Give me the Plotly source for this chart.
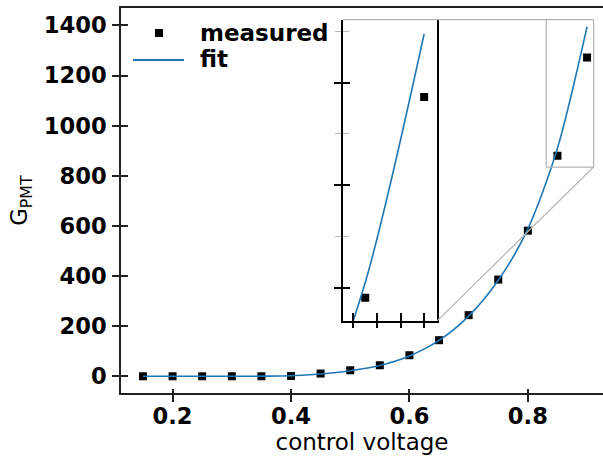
import plotly.graph_objects as go

# ---- data ----
voltage = [0.15, 0.20, 0.25, 0.30, 0.35, 0.40, 0.45, 0.50,
           0.55, 0.60, 0.65, 0.70, 0.75, 0.80, 0.85, 0.90]
gain_measured = [0, 0, 0, 0, 0, 1, 11, 24, 44, 84, 144, 244, 386, 581, 880, 1272]
gain_fit = [0, 0, 0, 0, 0.5, 2, 9, 22, 43, 81, 143, 240, 383, 588, 910, 1395]

x_ticks = [0.2, 0.4, 0.6, 0.8]
x_tick_labels = ["0.2", "0.4", "0.6", "0.8"]
y_ticks = [0, 200, 400, 600, 800, 1000, 1200, 1400]
y_tick_labels = ["0", "200", "400", "600", "800", "1000", "1200", "1400"]

inset_x_ticks = [0.84, 0.86, 0.88, 0.90]
inset_y_major = [900, 1100, 1300]
inset_y_minor = [1000, 1200, 1400]

legend_labels = ["measured", "fit"]

main_x_range = [0.1129, 0.9269]
main_y_range = [-66.7, 1469.6]
inset_x_range = [0.831, 0.911]
inset_y_range = [835, 1423]
inset_x_domain = [0.4603, 0.6558]
inset_y_domain = [0.1873, 0.9696]

W, H = 603, 460
ML, MR, MT, MB = 121, 0, 8, 67
PW, PH = W - ML - MR, H - MT - MB

FONT = "DejaVu Sans"
AX = "#222222"
BLUE = "#1f77b4"
GRAY = "#b4b4b4"


def px(xpix):
    return (xpix - ML) / PW


def py(ypix):
    return (H - MB - ypix) / PH


fig = go.Figure()

# main traces
fig.add_trace(go.Scatter(x=voltage, y=gain_measured, mode="markers", name=legend_labels[0],
                         marker=dict(symbol="square", size=8, color="black"),
                         xaxis="x", yaxis="y", showlegend=False))
fig.add_trace(go.Scatter(x=voltage, y=gain_fit, mode="lines", name=legend_labels[1],
                         line=dict(color=BLUE, width=1.6, shape="spline", smoothing=0.8),
                         xaxis="x", yaxis="y", showlegend=False))
# inset traces
fig.add_trace(go.Scatter(x=voltage, y=gain_measured, mode="markers", showlegend=False,
                         marker=dict(symbol="square", size=8, color="black"),
                         xaxis="x2", yaxis="y2"))
fig.add_trace(go.Scatter(x=voltage, y=gain_fit, mode="lines", showlegend=False,
                         line=dict(color=BLUE, width=1.6, shape="spline", smoothing=0.8),
                         xaxis="x2", yaxis="y2"))
# empty traces hosting the overlay tick axes (inward half of in-out ticks)
fig.add_trace(go.Scatter(x=[None], y=[None], showlegend=False, xaxis="x3", yaxis="y3",
                         hoverinfo="skip"))
fig.add_trace(go.Scatter(x=[None], y=[None], showlegend=False, xaxis="x4", yaxis="y4",
                         hoverinfo="skip"))

tickfont = dict(family=FONT, size=22.6, color="black", weight="bold")
nolab = dict(showticklabels=False, showline=False, showgrid=False, zeroline=False,
             automargin=False)

fig.update_layout(
    width=W, height=H,
    margin=dict(l=ML, r=MR, t=MT, b=MB, pad=0, autoexpand=False),
    paper_bgcolor="white", plot_bgcolor="white",
    font=dict(family=FONT, color="black"),
    showlegend=False,
    xaxis=dict(range=main_x_range, domain=[0, 1], anchor="y", automargin=False,
               tickmode="array", tickvals=x_ticks, ticktext=x_tick_labels,
               ticks="outside", ticklen=7, tickwidth=1.5, tickcolor=AX,
               ticklabelstandoff=-5,
               showline=True, linecolor=AX, linewidth=1.5, mirror=True,
               showgrid=False, zeroline=False, tickfont=tickfont,
               title=dict(text="control voltage", standoff=4,
                          font=dict(family=FONT, size=23, color="black"))),
    yaxis=dict(range=main_y_range, domain=[0, 1], anchor="x", automargin=False,
               tickmode="array", tickvals=y_ticks, ticktext=y_tick_labels,
               ticks="outside", ticklen=7, tickwidth=1.5, tickcolor=AX,
               ticklabelstandoff=1,
               showline=True, linecolor=AX, linewidth=1.5,
               showgrid=False, zeroline=False, tickfont=tickfont,
               title=dict(text="G<sub>PMT</sub>", standoff=10,
                          font=dict(family=FONT, size=22.6, color="black"))),
    xaxis3=dict(range=main_x_range, overlaying="x", anchor="y3", side="bottom",
                tickmode="array", tickvals=x_ticks, ticks="inside", ticklen=4,
                tickwidth=1.5, tickcolor=AX, **nolab),
    yaxis3=dict(range=main_y_range, overlaying="y", anchor="x3", side="left",
                tickmode="array", tickvals=y_ticks, ticks="inside", ticklen=7,
                tickwidth=1.5, tickcolor=AX, **nolab),
    xaxis2=dict(range=inset_x_range, domain=inset_x_domain, anchor="y2", automargin=False,
                tickmode="array", tickvals=inset_x_ticks, ticks="outside", ticklen=5,
                tickwidth=1.5, tickcolor="black", showticklabels=False,
                showline=True, linecolor="black", linewidth=1.5, mirror=False,
                showgrid=False, zeroline=False),
    yaxis2=dict(range=inset_y_range, domain=inset_y_domain, anchor="x2", automargin=False,
                tickmode="array", tickvals=inset_y_major, ticks="outside", ticklen=7,
                tickwidth=1.5, tickcolor="black", showticklabels=False,
                minor=dict(tickmode="array", tickvals=inset_y_minor, ticks="outside",
                           ticklen=6, tickwidth=1, tickcolor="#b8b8b8"),
                showline=True, linecolor="black", linewidth=1.5, mirror=True,
                showgrid=False, zeroline=False),
    xaxis4=dict(range=inset_x_range, overlaying="x2", anchor="y4", side="bottom",
                tickmode="array", tickvals=inset_x_ticks, ticks="inside", ticklen=8,
                tickwidth=1.5, tickcolor="black", **nolab),
    yaxis4=dict(range=inset_y_range, overlaying="y2", anchor="x4", side="left",
                tickmode="array", tickvals=inset_y_major, ticks="inside", ticklen=7,
                tickwidth=1.5, tickcolor="black",
                minor=dict(tickmode="array", tickvals=inset_y_minor, ticks="inside",
                           ticklen=6, tickwidth=1, tickcolor="#b8b8b8"),
                **nolab),
)


# inset corners expressed in main-axis data coordinates
def main_x(frac):
    return main_x_range[0] + frac * (main_x_range[1] - main_x_range[0])


def main_y(frac):
    return main_y_range[0] + frac * (main_y_range[1] - main_y_range[0])


ins_l, ins_r = main_x(inset_x_domain[0]), main_x(inset_x_domain[1])
ins_b, ins_t = main_y(inset_y_domain[0]), main_y(inset_y_domain[1])

# zoom region rectangle
fig.add_shape(type="rect", xref="x", yref="y",
              x0=inset_x_range[0], x1=inset_x_range[1],
              y0=inset_y_range[0], y1=inset_y_range[1],
              line=dict(color=GRAY, width=1.2), fillcolor="rgba(0,0,0,0)")
# inset top edge (light)
fig.add_shape(type="line", xref="x", yref="y", x0=ins_l, x1=ins_r, y0=ins_t, y1=ins_t,
              line=dict(color=GRAY, width=1.2))
# connectors
fig.add_shape(type="line", xref="x", yref="y", x0=ins_r, y0=ins_t,
              x1=inset_x_range[0], y1=inset_y_range[1], line=dict(color=GRAY, width=1.2))
fig.add_shape(type="line", xref="x", yref="y", x0=ins_r, y0=ins_b,
              x1=inset_x_range[1], y1=inset_y_range[0], line=dict(color=GRAY, width=1.2))

# ---- legend (drawn in the upper-left corner) ----
legfont = dict(family=FONT, size=23, color="black", weight="bold")
fig.add_shape(type="rect", xref="paper", yref="paper",
              x0=px(155), x1=px(163), y0=py(37), y1=py(29),
              line=dict(width=0), fillcolor="black")
fig.add_annotation(xref="paper", yref="paper", x=px(198), y=py(33),
                   text=legend_labels[0], showarrow=False, xanchor="left", yanchor="middle",
                   font=legfont)
fig.add_shape(type="line", xref="paper", yref="paper",
              x0=px(133), x1=px(184), y0=py(60), y1=py(60),
              line=dict(color=BLUE, width=1.8))
fig.add_annotation(xref="paper", yref="paper", x=px(198), y=py(59),
                   text=legend_labels[1], showarrow=False, xanchor="left", yanchor="middle",
                   font=legfont)

fig.write_html("out.html", config={"displayModeBar": False},
               post_script="document.body.style.margin='0px';")
